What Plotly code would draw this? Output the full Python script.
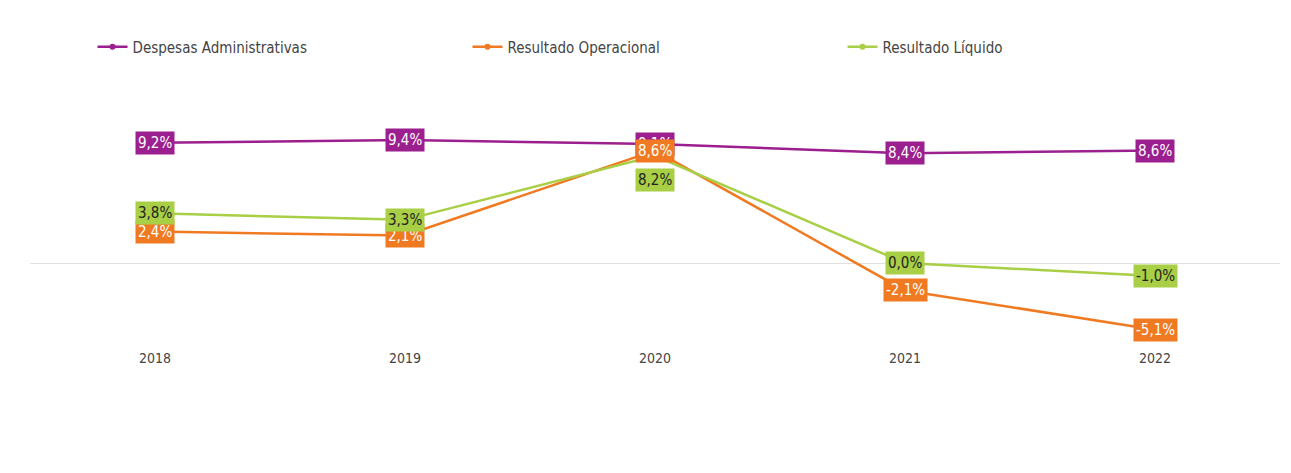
import plotly.graph_objects as go

anos = ["2018", "2019", "2020", "2021", "2022"]
despesas = [9.2, 9.4, 9.1, 8.4, 8.6]
res_operacional = [2.4, 2.1, 8.6, -2.1, -5.1]
res_liquido = [3.8, 3.3, 8.2, 0.0, -1.0]

series = [
    ("Despesas Administrativas", despesas, "#9B1F8F", "white"),
    ("Resultado Operacional", res_operacional, "#F07A22", "white"),
    ("Resultado Líquido", res_liquido, "#A8CF45", "#222222"),
]

xs = list(range(len(anos)))
fig = go.Figure()
for nome, vals, cor, txt in series:
    fig.add_trace(go.Scatter(x=xs, y=vals, name=nome, mode="lines+markers",
                             line=dict(color=cor, width=2.5),
                             marker=dict(size=6, color=cor)))
    for i, v in enumerate(vals):
        shift = -24 if (nome == "Resultado Líquido" and anos[i] == "2020") else 0
        fig.add_annotation(x=i, y=v, xref="x", yref="y", yshift=shift, showarrow=False,
                           text=f"{v:.1f}%".replace(".", ","),
                           bgcolor=cor, font=dict(color=txt, size=15),
                           borderpad=2)

fig.add_annotation(xref="paper", yref="paper", x=0.09, y=-0.7, xanchor="left",
                   showarrow=False,
                   text="<i>Fonte: SIAS Unimed Paraná - Dados contábeis das Singulares Sistema Autogestão</i>",
                   font=dict(size=12, color="#444444"))

fig.update_layout(
    width=1291, height=473, plot_bgcolor="white", paper_bgcolor="white",
    font=dict(family="DejaVu Sans Condensed, sans-serif", color="#444444", size=14),
    margin=dict(l=22, r=19, t=85, b=133, autoexpand=False),
    showlegend=True,
    legend=dict(orientation="h", x=0.5, xanchor="center", y=1.18, yanchor="middle",
                font=dict(size=15), entrywidth=330),
    xaxis=dict(range=[-0.5, 4.5], showgrid=False, showline=False, zeroline=False,
               tickvals=xs, ticktext=anos, ticks="", tickfont=dict(size=14)),
    yaxis=dict(range=[-6.5, 13], showgrid=False, showticklabels=False,
               zeroline=True, zerolinecolor="#E0E0E0", zerolinewidth=1),
)

fig.write_html("out.html")
